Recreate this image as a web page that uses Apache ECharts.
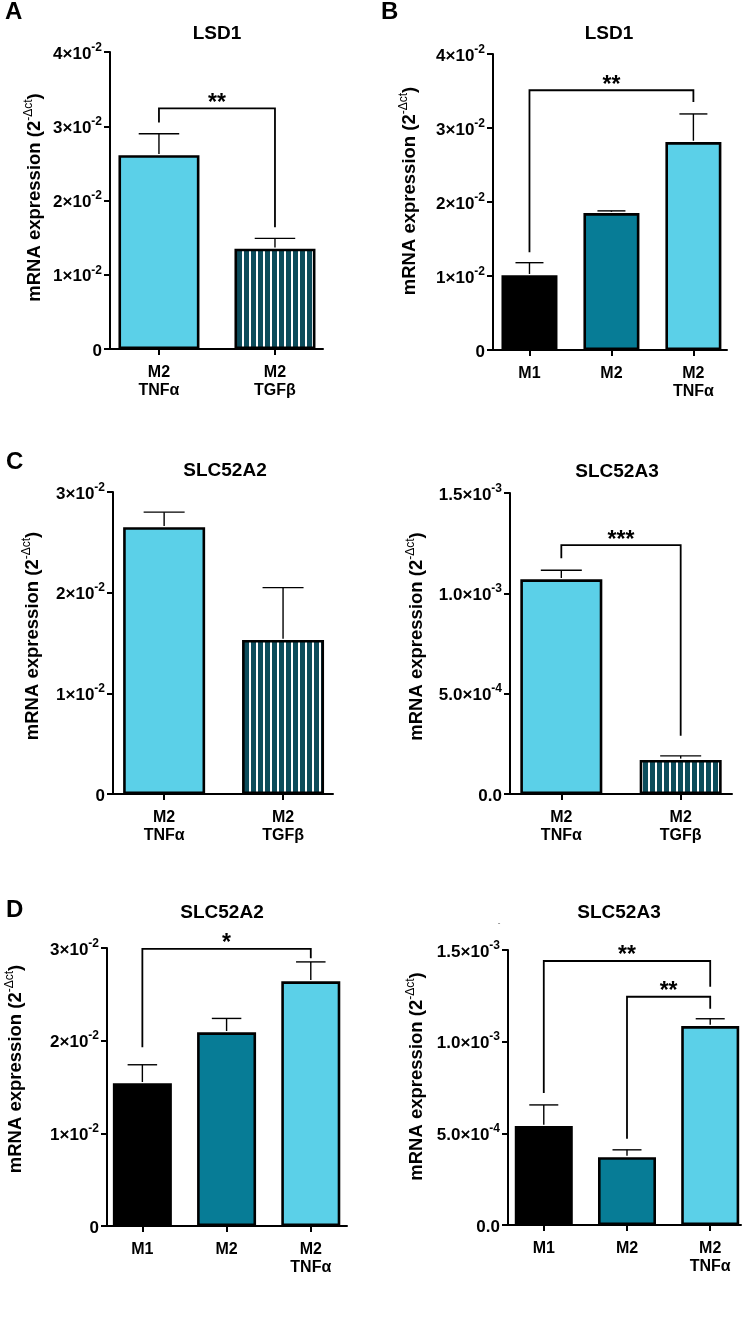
<!DOCTYPE html>
<html><head><meta charset="utf-8">
<script src="https://cdn.jsdelivr.net/npm/echarts@6/dist/echarts.min.js"></script>
<style>html,body{margin:0;padding:0;background:#fff}#c{width:748px;height:1328px}</style>
</head><body><div id="c"></div>
<script>
// ---------------- data ----------------
const catsTwo = ['M2\nTNFα', 'M2\nTGFβ'];
const catsThree = ['M1', 'M2', 'M2\nTNFα'];

const lsd1A = [0.0261, 0.0135];
const lsd1AErr = [0.0029, 0.0014];

const lsd1B = [0.0101, 0.0185, 0.0281];
const lsd1BErr = [0.0017, 0.0003, 0.0038];

const slc2C = [0.0265, 0.0153];
const slc2CErr = [0.0015, 0.0052];

const slc3C = [0.00107, 0.00017];
const slc3CErr = [0.000045, 0.00002];

const slc2D = [0.0154, 0.0209, 0.0264];
const slc2DErr = [0.0020, 0.0015, 0.0021];

const slc3D = [0.00054, 0.00037, 0.001085];
const slc3DErr = [0.000115, 0.00004, 0.00004];

// significance brackets: [fromIndex, toIndex, level, leftLegEnd, rightLegEnd, stars]
const sigA = [[0, 1, 0.0324, 0.0305, 0.0164, '**']];
const sigB = [[0, 2, 0.0351, 0.0132, 0.0335, '**']];
const sigC2 = [];
const sigC3 = [[0, 1, 0.00124, 0.001175, 0.00029, '***']];
const sigD2 = [[0, 2, 0.0299, 0.0193, 0.0289, '*']];
const sigD3 = [[0, 2, 0.00144, 0.00072, 0.00130, '**'], [1, 2, 0.001245, 0.00047, 0.00118, '**']];

// tick labels: [mantissa, exponent]
const ticksE2 = [['0', ''], ['1×10', '-2'], ['2×10', '-2'], ['3×10', '-2'], ['4×10', '-2']];
const ticksE3 = [['0.0', ''], ['5.0×10', '-4'], ['1.0×10', '-3'], ['1.5×10', '-3']];

const titles = ['LSD1', 'LSD1', 'SLC52A2', 'SLC52A3', 'SLC52A2', 'SLC52A3'];
const letters = ['A', 'B', 'C', 'D'];

// ---------------- style ----------------
const FONT = '"Liberation Sans", Arial, Helvetica, sans-serif';
const BLACK = '#000000';
const TEAL = '#077C96';
const CYAN = '#5BD0E8';

function stripePattern() {
  const c = document.createElement('canvas');
  c.width = 7; c.height = 8;
  const g = c.getContext('2d');
  g.fillStyle = '#0C4C5B'; g.fillRect(0, 0, 7, 8);
  g.fillStyle = '#ffffff'; g.fillRect(4, 0, 2, 8);
  return c;
}
const STRIPE = { image: stripePattern(), repeat: 'repeat' };

const panels = [
  { cats: catsTwo, vals: lsd1A, errs: lsd1AErr, sig: sigA, colors: [CYAN, STRIPE], ticks: ticksE2, max: 0.04, interval: 0.01,
    grid: { left: 110, top: 52, width: 213, height: 297 }, xMin: -0.422, xMax: 1.414, barW: 81, title: [217, 34], nameGap: 66, namePad: 6 },
  { cats: catsThree, vals: lsd1B, errs: lsd1BErr, sig: sigB, colors: [BLACK, TEAL, CYAN], ticks: ticksE2, max: 0.04, interval: 0.01,
    grid: { left: 493, top: 54, width: 234, height: 296 }, xMin: -0.445, xMax: 2.41, barW: 56, title: [609, 34], nameGap: 74, namePad: 22 },
  { cats: catsTwo, vals: slc2C, errs: slc2CErr, sig: sigC2, colors: [CYAN, STRIPE], ticks: ticksE2, max: 0.03, interval: 0.01,
    grid: { left: 113, top: 492, width: 220, height: 302 }, xMin: -0.43, xMax: 1.42, barW: 82, title: [225, 471], nameGap: 71, namePad: 14 },
  { cats: catsTwo, vals: slc3C, errs: slc3CErr, sig: sigC3, colors: [CYAN, STRIPE], ticks: ticksE3, max: 0.0015, interval: 0.0005,
    grid: { left: 510, top: 493, width: 222, height: 301 }, xMin: -0.43, xMax: 1.43, barW: 82, title: [617, 472], nameGap: 84, namePad: 14 },
  { cats: catsThree, vals: slc2D, errs: slc2DErr, sig: sigD2, colors: [BLACK, TEAL, CYAN], ticks: ticksE2, max: 0.03, interval: 0.01,
    grid: { left: 107, top: 948, width: 240, height: 278 }, xMin: -0.42, xMax: 2.43, barW: 59, title: [222, 913], nameGap: 82, namePad: 36 },
  { cats: catsThree, vals: slc3D, errs: slc3DErr, sig: sigD3, colors: [BLACK, TEAL, CYAN], ticks: ticksE3, max: 0.0015, interval: 0.0005,
    grid: { left: 508, top: 950, width: 233, height: 275 }, xMin: -0.43, xMax: 2.37, barW: 58, title: [619, 913], nameGap: 82, namePad: 22 }
];

const grid = [], xAxis = [], yAxis = [], series = [], graphic = [];

panels.forEach((p, i) => {
  grid.push(Object.assign({ containLabel: false }, p.grid));
  const custom = p.cats.map((_, k) => k);
  xAxis.push({
    type: 'value', gridIndex: i, min: p.xMin, max: p.xMax,
    splitLine: { show: false },
    axisLine: { show: true, onZero: false, lineStyle: { color: BLACK, width: 2 } },
    axisTick: { show: true, customValues: custom, length: 6, lineStyle: { color: BLACK, width: 2 } },
    axisLabel: {
      customValues: custom, margin: 15, color: BLACK,
      fontFamily: FONT, fontWeight: 'bold', fontSize: 16, lineHeight: 18,
      formatter: v => p.cats[Math.round(v)]
    }
  });
  yAxis.push({
    type: 'value', gridIndex: i, min: 0, max: p.max, interval: p.interval,
    splitLine: { show: false },
    axisLine: { show: true, onZero: false, lineStyle: { color: BLACK, width: 2 } },
    axisTick: { show: true, length: 6, lineStyle: { color: BLACK, width: 2 } },
    axisLabel: {
      margin: 8, color: BLACK,
      formatter: v => {
        const t = p.ticks[Math.round(v / p.interval)];
        return t[1] ? '{m|' + t[0] + '}{e|' + t[1] + '}' : '{m|' + t[0] + '}';
      },
      rich: {
        m: { fontFamily: FONT, fontWeight: 'bold', fontSize: 17, color: BLACK, lineHeight: 21, verticalAlign: 'bottom' },
        e: { fontFamily: FONT, fontWeight: 'bold', fontSize: 12, color: BLACK, lineHeight: 12, verticalAlign: 'top' }
      }
    },
    name: '{a|mRNA expression (2}{s|-Δct}{a|)}',
    nameLocation: 'middle', nameGap: p.nameGap, nameRotate: 90,
    nameTextStyle: {
      padding: [0, 0, 0, p.namePad],
      rich: {
        a: { fontFamily: FONT, fontWeight: 'bold', fontSize: 18.5, color: BLACK, lineHeight: 21, verticalAlign: 'bottom' },
        s: { fontFamily: FONT, fontSize: 12, color: BLACK, lineHeight: 12, verticalAlign: 'top' }
      }
    }
  });

  series.push({
    type: 'bar', xAxisIndex: i, yAxisIndex: i, barWidth: p.barW, z: 2,
    itemStyle: { borderColor: BLACK, borderWidth: 2.6 },
    data: p.vals.map((v, k) => ({ value: [k, v], itemStyle: { color: p.colors[k] } }))
  });

  const halfCap = p.barW / 4;
  series.push({
    type: 'custom', xAxisIndex: i, yAxisIndex: i, z: 3,
    data: p.vals.map((v, k) => [k, v, v + p.errs[k]]),
    renderItem: (params, api) => {
      const x = api.value(0);
      const lo = api.coord([x, api.value(1)]);
      const hi = api.coord([x, api.value(2)]);
      const st = { stroke: BLACK, lineWidth: 1.4 };
      return { type: 'group', children: [
        { type: 'line', shape: { x1: lo[0], y1: lo[1] - 1.3, x2: hi[0], y2: hi[1] }, style: st },
        { type: 'line', shape: { x1: hi[0] - halfCap, y1: hi[1], x2: hi[0] + halfCap, y2: hi[1] }, style: st }
      ] };
    }
  });

  if (p.sig.length) {
    series.push({
      type: 'custom', xAxisIndex: i, yAxisIndex: i, z: 4,
      data: p.sig.map(s => [s[0], s[1], s[2], s[3], s[4]]),
      renderItem: (params, api) => {
        const x1 = api.value(0), x2 = api.value(1), lvl = api.value(2);
        const a = api.coord([x1, api.value(3)]);
        const b = api.coord([x1, lvl]);
        const c = api.coord([x2, lvl]);
        const d = api.coord([x2, api.value(4)]);
        const stars = p.sig[params.dataIndex][5];
        return { type: 'group', children: [
          { type: 'polyline', shape: { points: [a, b, c, d] }, style: { stroke: BLACK, lineWidth: 1.8, fill: null } },
          { type: 'text', style: { text: stars, x: (b[0] + c[0]) / 2, y: b[1] - 5,
              align: 'center', verticalAlign: 'middle', textAlign: 'center', textVerticalAlign: 'middle',
              font: 'bold 23px ' + FONT, fill: BLACK } }
        ] };
      }
    });
  }

  graphic.push({ type: 'text', x: p.title[0], y: p.title[1],
    style: { text: titles[i], align: 'center', verticalAlign: 'middle', textAlign: 'center', textVerticalAlign: 'middle',
      font: 'bold 19px ' + FONT, fill: BLACK } });
});

const letterPos = [[5, 0], [381, 0], [6, 450], [6, 898]];
letters.forEach((l, i) => {
  graphic.push({ type: 'text', x: letterPos[i][0], y: letterPos[i][1],
    style: { text: l, align: 'left', verticalAlign: 'top', textAlign: 'left', textVerticalAlign: 'top',
      font: 'bold 24px ' + FONT, fill: BLACK } });
});
graphic.push({ type: 'text', x: 499, y: 923,
  style: { text: '-', align: 'center', verticalAlign: 'middle', font: '8px ' + FONT, fill: '#555' } });

const chart = echarts.init(document.getElementById('c'), null, { renderer: 'canvas' });
chart.setOption({
  animation: false,
  backgroundColor: '#ffffff',
  grid, xAxis, yAxis, series, graphic
});
</script>
</body></html>
